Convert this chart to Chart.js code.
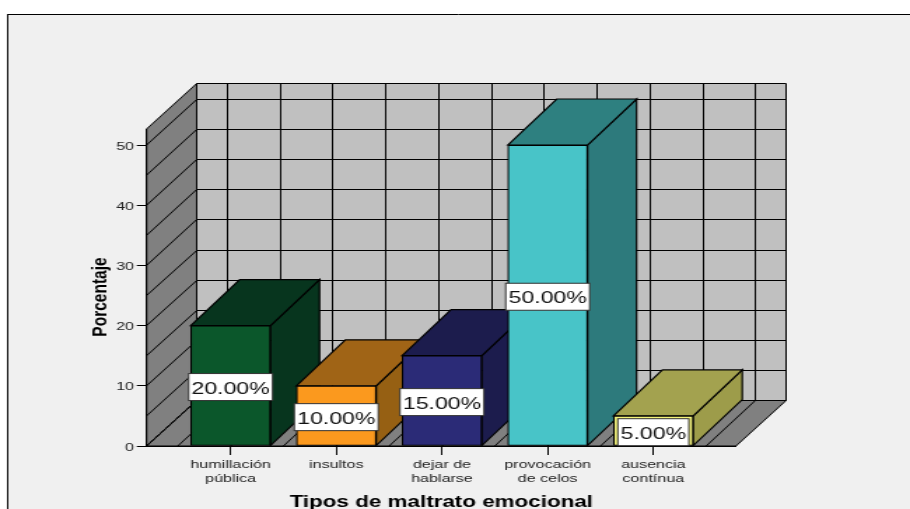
<!DOCTYPE html>
<html>
<head>
<meta charset="utf-8">
<style>
html, body { margin: 0; padding: 0; background: #fff; overflow: hidden; }
/* the original picture is stretched sideways, so the whole canvas is too */
#wrap { width: 650px; height: 509px; transform: scaleX(1.4); transform-origin: 0 0; }
</style>
<script src="https://cdn.jsdelivr.net/npm/chart.js@4"></script>
</head>
<body>
<div id="wrap"><canvas id="chart" width="650" height="509"></canvas></div>
<script>
const categories = [['humillación', 'pública'], 'insultos', ['dejar de', 'hablarse'], ['provocación', 'de celos'], ['ausencia', 'contínua']];
const values = [20, 10, 15, 50, 5];
const yTicks = [0, 10, 20, 30, 40, 50];
const xTicks = [0, 1, 2, 3, 4];
const yGrid = [0, 5, 10, 15, 20, 25, 30, 35, 40, 45, 50];
const xGrid = [-0.5, 0, 0.5, 1, 1.5, 2, 2.5, 3, 3.5, 4, 4.5];
const frontColors = ['#0b572b', '#fb991e', '#2b2b77', '#48c4c8', '#f2f27a'];
const topColors = ['#07351e', '#a06416', '#1c1c4d', '#2e8080', '#a3a24f'];
const sideColors = ['#07351e', '#966013', '#1c1c4d', '#2d7a7c', '#9d9c4a'];

// depth of the fake 3D box
const DX = 35, DY = 46;

// keep thin lines dark, otherwise the stretch turns them grey
const snap = v => Math.round(v) + 0.5;

function poly(ctx, pts, fill) {
    ctx.beginPath();
    pts.forEach((p, i) => i ? ctx.lineTo(p[0], p[1]) : ctx.moveTo(p[0], p[1]));
    ctx.closePath();
    ctx.fillStyle = fill;
    ctx.fill();
    ctx.stroke();
}

function line(ctx, x1, y1, x2, y2) {
    ctx.beginPath();
    ctx.moveTo(x1, y1);
    ctx.lineTo(x2, y2);
    ctx.stroke();
}

const box3d = {
    id: 'box3d',
    // frame, walls and floor, under the axes
    beforeDraw(chart) {
        const ctx = chart.ctx, a = chart.chartArea;
        const xs = chart.scales.x, ys = chart.scales.y;
        const y0 = ys.getPixelForValue(0);
        ctx.save();
        ctx.fillStyle = '#f0f0f0';
        ctx.fillRect(5, 14, 650, 509);
        ctx.strokeStyle = '#000';
        ctx.lineWidth = 1;
        line(ctx, 5.5, 14, 5.5, 509);
        line(ctx, 5, 14.5, 650, 14.5);

        const bl = snap(a.left + DX), br = snap(a.right + DX), bt = snap(a.top - DY), bb = snap(y0 - DY);
        poly(ctx, [[bl, bt], [br, bt], [br, bb], [bl, bb]], '#c0c0c0');
        poly(ctx, [[a.left, a.top], [bl, bt], [bl, bb], [a.left, y0]], '#808080');
        poly(ctx, [[a.left, y0], [bl, bb], [br, bb], [a.right, y0]], '#808080');

        yGrid.forEach(v => {
            const y = ys.getPixelForValue(v);
            line(ctx, a.left, y, bl, snap(y - DY));
            line(ctx, bl, snap(y - DY), br, snap(y - DY));
        });
        xGrid.forEach(v => {
            const x = xs.getPixelForValue(v);
            line(ctx, x, y0, snap(x + DX), bb);
            line(ctx, snap(x + DX), bb, snap(x + DX), bt);
        });
        ctx.restore();
    },
    // top and side of every bar, the library draws the front on top
    beforeDatasetsDraw(chart) {
        const ctx = chart.ctx;
        ctx.save();
        ctx.strokeStyle = '#000';
        ctx.lineWidth = 1.2;
        chart.getDatasetMeta(0).data.forEach((bar, i) => {
            const { x, y, base, width } = bar.getProps(['x', 'y', 'base', 'width']);
            const l = x - width / 2, r = x + width / 2;
            poly(ctx, [[r, y], [r + DX, y - DY], [r + DX, base - DY], [r, base]], sideColors[i]);
            poly(ctx, [[l, y], [l + DX, y - DY], [r + DX, y - DY], [r, y]], topColors[i]);
        });
        ctx.restore();
    },
    // value boxes and the y axis title
    afterDatasetsDraw(chart) {
        const ctx = chart.ctx;
        ctx.save();
        ctx.font = '16.5px "Liberation Sans"';
        ctx.textAlign = 'center';
        ctx.textBaseline = 'middle';
        chart.getDatasetMeta(0).data.forEach((bar, i) => {
            const { x, y, base } = bar.getProps(['x', 'y', 'base']);
            const text = values[i].toFixed(2) + '%';
            const w = ctx.measureText(text).width + 4;
            const cy = (y + base) / 2 + 1.5;
            ctx.fillStyle = '#fff';
            ctx.strokeStyle = '#333';
            ctx.lineWidth = 1;
            ctx.fillRect(x - w / 2, cy - 13.5, w, 27);
            ctx.strokeRect(x - w / 2, cy - 13.5, w, 27);
            ctx.fillStyle = '#111';
            ctx.fillText(text, x, cy + 2);
        });
        ctx.translate(72, 297);
        ctx.rotate(-Math.PI / 2);
        ctx.font = 'bold 15.5px "Liberation Sans"';
        ctx.fillStyle = '#000';
        ctx.fillText('Porcentaje', 0, 0);
        ctx.restore();
    }
};

new Chart(document.getElementById('chart').getContext('2d'), {
    type: 'bar',
    data: {
        datasets: [{
            data: values.map((v, i) => ({ x: xTicks[i], y: v })),
            backgroundColor: frontColors,
            borderColor: '#000',
            borderWidth: 1.2,
            borderSkipped: false,
            barThickness: 57
        }]
    },
    options: {
        responsive: false,
        animation: false,
        devicePixelRatio: 1,
        layout: { autoPadding: false, padding: { left: 0, right: 124.3, top: 129, bottom: 0 } },
        plugins: { legend: { display: false }, tooltip: { enabled: false } },
        scales: {
            x: {
                type: 'linear',
                offset: false,
                min: -0.795,
                max: 4.782,
                afterFit: s => { s.height = 63; },
                afterBuildTicks: s => { s.ticks = xTicks.map(v => ({ value: v })); },
                grid: { offset: false, drawOnChartArea: false, tickLength: 9, color: '#000' },
                border: { color: '#000' },
                ticks: {
                    autoSkip: false,
                    maxRotation: 0,
                    padding: 3,
                    color: '#222',
                    font: { family: '"Liberation Sans"', size: 11.5 },
                    callback: v => categories[v]
                },
                title: {
                    display: true,
                    text: 'Tipos de maltrato emocional',
                    color: '#000',
                    padding: { top: 0, bottom: -3 },
                    font: { family: '"Liberation Sans"', size: 16, weight: 'bold' }
                }
            },
            y: {
                min: 0,
                max: 52.66,
                afterFit: s => { s.width = 104.7; },
                afterBuildTicks: s => { s.ticks = yTicks.map(v => ({ value: v })); },
                grid: { drawOnChartArea: false, tickLength: 7, color: '#000' },
                border: { color: '#000' },
                ticks: {
                    padding: 2,
                    labelOffset: 1.5,
                    color: '#222',
                    font: { family: '"Liberation Sans"', size: 11.5 }
                }
            }
        }
    },
    plugins: [box3d]
});
</script>
</body>
</html>
